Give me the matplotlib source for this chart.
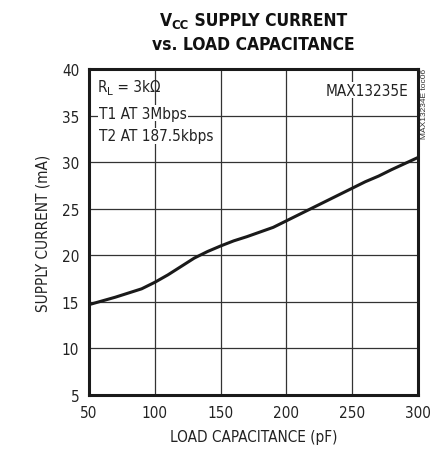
import matplotlib
matplotlib.use("Agg")
import matplotlib.pyplot as plt
from matplotlib import font_manager

# Load capacitance (pF) vs Vcc supply current (mA)
cap_pf = [50, 60, 70, 80, 90, 100, 110, 120, 130, 140, 150, 160, 170,
          180, 190, 200, 210, 220, 230, 240, 250, 260, 270, 280, 290, 300]
supply_ma = [14.7, 15.1, 15.5, 15.95, 16.4, 17.1, 17.9, 18.8, 19.7, 20.4,
             21.0, 21.55, 22.0, 22.5, 23.0, 23.7, 24.4, 25.1, 25.8, 26.5,
             27.2, 27.9, 28.5, 29.2, 29.85, 30.5]

x_ticks = [50, 100, 150, 200, 250, 300]
y_ticks = [5, 10, 15, 20, 25, 30, 35, 40]

W, H = 443, 460


def find_narrow(bold):
    # look for any condensed / narrow face on the system
    for f in font_manager.fontManager.ttflist:
        n = f.fname.lower()
        if ("narrow" in n or "condensed" in n) and "italic" not in n and "oblique" not in n:
            if ("bold" in n) == bold:
                return f.fname
    return None


def make_fp(fname, size, bold=False):
    if fname:
        p = font_manager.FontProperties(fname=fname)
    else:
        p = font_manager.FontProperties(family="Liberation Sans",
                                        weight="bold" if bold else "normal")
    p.set_size(size)
    return p


reg_file = find_narrow(False)
bold_file = find_narrow(True)
plt.rcParams["font.family"] = ["Liberation Sans", "DejaVu Sans"]
fs = 11 if reg_file else 9.8
fp = make_fp(reg_file, fs)
fp_sub = make_fp(reg_file, fs * 0.75)
tsize = 12.5 if bold_file else 11
fpb = make_fp(bold_file, tsize, True)
fpb_sub = make_fp(bold_file, tsize * 0.75, True)

fig = plt.figure(figsize=(W / 100, H / 100), dpi=100)
ax = fig.add_axes([89 / W, 64 / H, 329 / W, 326 / H])

ax.plot(cap_pf, supply_ma, color="#1a1a1a", lw=2.2, zorder=3)

ax.set_xlim(50, 300)
ax.set_ylim(5, 40)
ax.set_xticks(x_ticks)
ax.set_yticks(y_ticks)
ax.grid(True, color="#333333", lw=0.9)
ax.tick_params(length=0, pad=7, colors="#222222")
for lab in ax.get_xticklabels() + ax.get_yticklabels():
    lab.set_fontproperties(fp)
for s in ax.spines.values():
    s.set_linewidth(2.2)
    s.set_color("#1a1a1a")

ax.set_xlabel("LOAD CAPACITANCE (pF)", fontproperties=fp, labelpad=7, color="#222222")
ax.set_ylabel("SUPPLY CURRENT (mA)", fontproperties=fp, labelpad=8, color="#222222")

renderer = fig.canvas.get_renderer()


def place_run(pieces, x_px, y_top_px, align="left", color="#222222"):
    # pieces: (text, fontprops, drop below baseline in px); baseline from top
    arts = []
    for txt, prop, dy in pieces:
        t = fig.text(0, 0, txt, fontproperties=prop, va="baseline", ha="left",
                     color=color)
        arts.append((t, dy))
    widths = [t.get_window_extent(renderer).width for t, _ in arts]
    total = sum(widths)
    x = x_px - total / 2 if align == "center" else x_px
    for (t, dy), w in zip(arts, widths):
        t.set_position((x / W, (H - y_top_px - dy) / H))
        x += w


place_run([("V", fpb, 0), ("CC", fpb_sub, 3), (" SUPPLY CURRENT", fpb, 0)],
          253.5, 26, align="center", color="#111111")
place_run([("vs. LOAD CAPACITANCE", fpb, 0)], 253.5, 50, align="center",
          color="#111111")

place_run([("R", fp, 0), ("L", fp_sub, 3), (" = 3k\u03a9", fp, 0)], 98, 92)

box = dict(facecolor="white", edgecolor="none", pad=0.5)
ax.text(0.03, 0.865, "T1 AT 3Mbps", transform=ax.transAxes,
        fontproperties=fp, va="center", ha="left", bbox=box, color="#222222")
ax.text(0.03, 0.795, "T2 AT 187.5kbps", transform=ax.transAxes,
        fontproperties=fp, va="center", ha="left", bbox=box, color="#222222")
ax.text(0.97, 0.935, "MAX13235E", transform=ax.transAxes,
        fontproperties=fp, va="center", ha="right", bbox=box, color="#222222")

fig.text(425 / W, 1 - 104 / H, "MAX13234E toc06", rotation=90, ha="center",
         va="center", fontsize=6, color="#333333")

fig.savefig("out.png", dpi=100)
